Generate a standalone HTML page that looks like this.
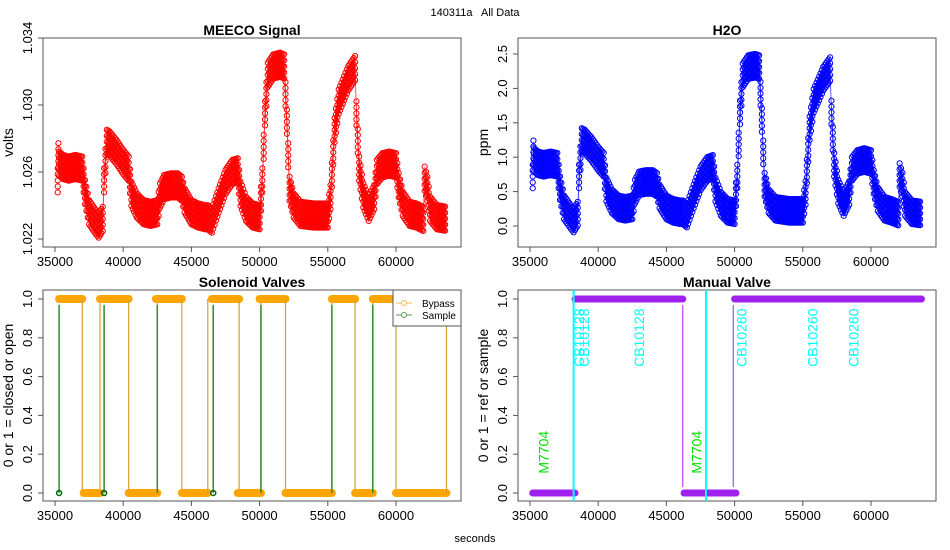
<!DOCTYPE html>
<html><head><meta charset="utf-8">
<style>
html,body{margin:0;padding:0;background:#fff;}
svg{display:block;font-family:"Liberation Sans",sans-serif;}
</style></head>
<body>
<svg id="c" width="950" height="550" viewBox="0 0 950 550" xmlns="http://www.w3.org/2000/svg">
<text x="475" y="16" font-size="11" text-anchor="middle" style="white-space:pre">140311a   All Data</text>
<text x="475" y="542" font-size="11" text-anchor="middle">seconds</text>
</svg>
<script>
// ---- data ----
const times = [35200,35250,35300,35600,36000,36500,37000,37200,37500,38000,38200,38500,38600,38800,39000,39500,40000,40400,40600,41000,41500,42000,42500,42700,43000,43500,44000,44300,44500,45000,45500,46000,46200,46500,47000,47500,48000,48400,48600,49000,49500,50000,50200,50400,50600,51000,51500,51800,52000,52200,52500,53000,54000,55000,55200,55500,55800,56200,56500,57000,57100,57300,57600,58000,58400,58600,59000,59500,60000,60200,60500,61000,61500,62000,62100,62300,62500,63000,63700];
const meecoVolts = [1.0255,1.0270,1.0265,1.0263,1.0262,1.0263,1.0262,1.0248,1.0236,1.0230,1.0228,1.0232,1.0255,1.0278,1.0277,1.0272,1.0266,1.0262,1.0247,1.0240,1.0236,1.0235,1.0236,1.0246,1.0251,1.0252,1.0252,1.0250,1.0243,1.0236,1.0234,1.0233,1.0233,1.0231,1.0243,1.0254,1.0260,1.0261,1.0247,1.0238,1.0234,1.0233,1.0255,1.0295,1.0318,1.0323,1.0324,1.0323,1.0290,1.0250,1.0240,1.0235,1.0234,1.0234,1.0245,1.0285,1.0302,1.0310,1.0316,1.0322,1.0295,1.0262,1.0246,1.0238,1.0245,1.0260,1.0264,1.0265,1.0264,1.0252,1.0241,1.0235,1.0234,1.0232,1.0256,1.0250,1.0238,1.0233,1.0232];
const h2oPpm = [0.72,1.07,0.96,0.91,0.89,0.91,0.89,0.55,0.27,0.13,0.08,0.18,0.72,1.25,1.23,1.12,0.98,0.89,0.53,0.36,0.27,0.25,0.27,0.50,0.62,0.64,0.64,0.60,0.43,0.27,0.22,0.20,0.20,0.15,0.43,0.69,0.83,0.86,0.53,0.32,0.22,0.20,0.72,1.65,2.19,2.31,2.33,2.31,1.54,0.60,0.36,0.25,0.22,0.22,0.48,1.42,1.82,2.00,2.14,2.28,1.65,0.89,0.50,0.32,0.48,0.83,0.93,0.96,0.93,0.64,0.39,0.25,0.22,0.18,0.74,0.60,0.32,0.20,0.18];
const bypassStart = [35300,37100,38300,40400,42400,44300,46500,48400,50000,51900,55300,57000,58300,60000];
const bypassEnd   = [37000,38300,40400,42500,44300,46200,48500,50100,51900,55300,57000,58300,60000,63700];
const bypassState = [1,0,1,0,1,0,1,0,1,0,1,0,1,0];
const sampleSwitchTimes = [35300,38600,42500,46600,50100,55300,58300];
const samplePointTimes = [35300,38600,46600];
const manualStart = [35200,38300,46300,50000];
const manualEnd   = [38300,46200,50100,63700];
const manualState = [0,1,0,1];
const cylinderTimes = [38200,47900];
const labelTimes = [36000,38600,38950,43000,47200,50500,55700,58700];
const labelTexts = ["M7704","CB10128","CB10128","CB10128","M7704","CB10260","CB10260","CB10260"];
const labelY = [0.1,0.65,0.65,0.65,0.1,0.65,0.65,0.65];
const labelColor = ["#00e000","#00ffff","#00ffff","#00ffff","#00e000","#00ffff","#00ffff","#00ffff"];
const xTicks = [35000,40000,45000,50000,55000,60000];
const meecoTicks = [1.022,1.026,1.030,1.034];
const meecoTickLabels = ["1.022","1.026","1.030","1.034"];
const h2oTicks = [0,0.5,1,1.5,2,2.5];
const h2oTickLabels = ["0.0","0.5","1.0","1.5","2.0","2.5"];
const unitTicks = [0,0.2,0.4,0.6,0.8,1];
const unitTickLabels = ["0.0","0.2","0.4","0.6","0.8","1.0"];

const NS="http://www.w3.org/2000/svg";
const svg=document.getElementById('c');
function mk(tag,attrs,parent){const e=document.createElementNS(NS,tag);for(const k in attrs)e.setAttribute(k,attrs[k]);(parent||svg).appendChild(e);return e;}

function panel(name,bx0,by0,bx1,by1,xp0,xp1,yv0,yp0,yv1,yp1,title,ylab,yt,ytl){
  const g=mk('g',{});
  
  
  const X=v=>xp0+(v-35000)*(xp1-xp0)/25000;
  const Y=v=>yp0+(v-yv0)*(yp1-yp0)/(yv1-yv0);
  const box=mk('rect',{x:bx0,y:by0,width:bx1-bx0,height:by1-by0,fill:'none',stroke:'#555','stroke-width':1},g);
  
  
  const t=mk('text',{x:(bx0+bx1)/2,y:by0-3,'font-size':14,'font-weight':'bold','text-anchor':'middle'},g);t.textContent=title;
  
  
  const yl=mk('text',{x:0,y:0,'font-size':14,'text-anchor':'middle',transform:`translate(${bx0-30},${(by0+by1)/2}) rotate(-90)`},g);yl.textContent=ylab;
  
  
  xTicks.forEach(v=>{
    mk('line',{x1:X(v),x2:X(v),y1:by1,y2:by1+5,stroke:'#555'},g);
    const tl=mk('text',{x:X(v),y:by1+19,'font-size':13,'text-anchor':'middle'},g);tl.textContent=String(v);
    
    
  });
  mk('line',{x1:X(xTicks[0]),x2:X(xTicks[xTicks.length-1]),y1:by1,y2:by1,stroke:'#555'},g);
  yt.forEach((v,i)=>{
    mk('line',{x1:bx0,x2:bx0-5,y1:Y(v),y2:Y(v),stroke:'#555'},g);
    const tl=mk('text',{x:0,y:0,'font-size':13,'text-anchor':'middle',transform:`translate(${bx0-11},${Y(v)}) rotate(-90)`},g);tl.textContent=ytl[i];
    
    
  });
  return {g,X,Y};
}

function bandSeries(p,vals,half,color,name){
  const g=mk('g',{},p.g);
  
  
  let up='',dn='';
  times.forEach((t,i)=>{up+=`${p.X(t)},${p.Y(vals[i]+half)} `;});
  for(let i=times.length-1;i>=0;i--)dn+=`${p.X(times[i])},${p.Y(vals[i]-half)} `;
  mk('polygon',{points:up+dn,fill:color,'fill-opacity':0.8,stroke:'none'},g);
  for(let i=0;i<times.length-1;i++){
    const n=Math.max(1,Math.round((times[i+1]-times[i])/100));
    for(let k=0;k<n;k++){
      const f=k/n, t=times[i]+f*(times[i+1]-times[i]), v=vals[i]+f*(vals[i+1]-vals[i]);
      [0.9,0.45,0,-0.45,-0.9].forEach(o=>{
        const c=mk('circle',{cx:p.X(t),cy:p.Y(v+o*half),r:2.6,fill:'none',stroke:color,'stroke-width':1},g);
        
        
      });
    }
  }
}

const p1=panel('meeco-panel',43,38,461,247,55,396,1.022,239,1.034,38,'MEECO Signal','volts',meecoTicks,meecoTickLabels);
bandSeries(p1,meecoVolts,0.0008,'#ff0000','meeco-series');
const p2=panel('h2o-panel',518,38,936,247,530,871,0,226,2.5,54,'H2O','ppm',h2oTicks,h2oTickLabels);
bandSeries(p2,h2oPpm,0.19,'#0000ff','h2o-series');

const p3=panel('solenoid-panel',43,290,461,501,55,396,0,493,1,299,'Solenoid Valves','0 or 1 = closed or open',unitTicks,unitTickLabels);
bypassStart.forEach((s,i)=>{
  const l=mk('line',{x1:p3.X(s),x2:p3.X(bypassEnd[i]),y1:p3.Y(bypassState[i]),y2:p3.Y(bypassState[i]),stroke:'#ffa500','stroke-width':8,'stroke-linecap':'round'},p3.g);
  
  
  const v=mk('line',{x1:p3.X(bypassEnd[i]),x2:p3.X(bypassEnd[i]),y1:p3.Y(0),y2:p3.Y(1),stroke:'#d4a030','stroke-width':1.2},p3.g);
  
  
});
sampleSwitchTimes.forEach(t=>{
  const v=mk('line',{x1:p3.X(t),x2:p3.X(t),y1:p3.Y(0),y2:p3.Y(0.97),stroke:'#2e8b2e','stroke-width':1.5},p3.g);
  
  
});
samplePointTimes.forEach(t=>{
  const c=mk('circle',{cx:p3.X(t),cy:p3.Y(0),r:2.5,fill:'none',stroke:'#006400','stroke-width':1.5},p3.g);
  
  
});
const lg=mk('g',{},p3.g);


mk('rect',{x:393,y:290,width:68,height:36,fill:'#fff',stroke:'#555'},lg);
[['Bypass','#ffb84d',303],['Sample','#5a9e5a',315]].forEach(e=>{
  mk('line',{x1:396,x2:412,y1:e[2],y2:e[2],stroke:e[1]},lg);
  mk('circle',{cx:404,cy:e[2],r:2.5,fill:'#fff',stroke:e[1]},lg);
  const t=mk('text',{x:422,y:e[2]+4,'font-size':10},lg);t.textContent=e[0];
  
  
});

const p4=panel('manual-panel',518,290,936,501,530,871,0,493,1,299,'Manual Valve','0 or 1 = ref or sample',unitTicks,unitTickLabels);
manualStart.forEach((s,i)=>{
  const l=mk('line',{x1:p4.X(s),x2:p4.X(manualEnd[i]),y1:p4.Y(manualState[i]),y2:p4.Y(manualState[i]),stroke:'#a020f0','stroke-width':7,'stroke-linecap':'round'},p4.g);
  
  
  if(i>0){
    const v=mk('line',{x1:p4.X(s-100),x2:p4.X(s-100),y1:p4.Y(0.03),y2:p4.Y(0.97),stroke:'#a020f0','stroke-width':1},p4.g);
    
    
  }
});
cylinderTimes.forEach(t=>{
  const v=mk('line',{x1:p4.X(t),x2:p4.X(t),y1:290,y2:501,stroke:'#00ffff','stroke-width':2},p4.g);
  
  
});
labelTimes.forEach((t,i)=>{
  const tx=mk('text',{x:0,y:0,'font-size':14,fill:labelColor[i],transform:`translate(${p4.X(t)+5},${p4.Y(labelY[i])}) rotate(-90)`},p4.g);
  tx.textContent=labelTexts[i];
  
  
});
</script>
</body></html>
